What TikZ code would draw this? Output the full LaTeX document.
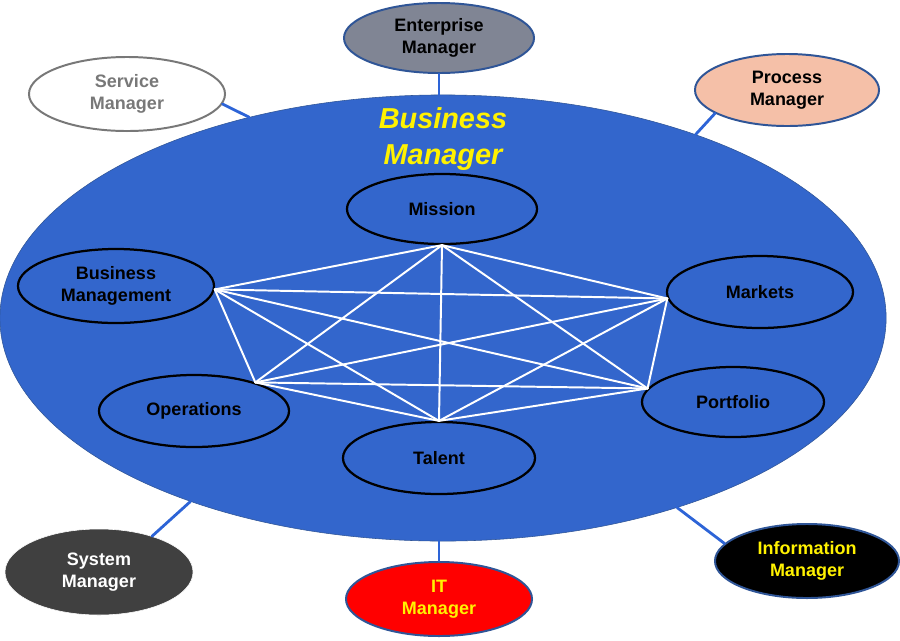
\documentclass[tikz,border=0pt]{standalone}
\usepackage{fontspec}
\setmainfont{Liberation Sans}
\usetikzlibrary{shapes.geometric}
\definecolor{bmblue}{RGB}{51,102,204}
\definecolor{rimblue}{RGB}{47,85,151}
\definecolor{linkblue}{RGB}{45,100,215}
\definecolor{entgray}{RGB}{128,133,148}
\definecolor{salmon}{RGB}{245,192,168}
\definecolor{sysgray}{RGB}{64,64,64}
\definecolor{svcgray}{RGB}{120,120,120}
\begin{document}
\begin{tikzpicture}[x=0.025cm,y=-0.025cm,line join=round,line cap=round,
		every node/.style={font=\bfseries\fontsize{12.8}{15.5}\selectfont,align=center},
		oval/.style 2 args={ellipse,inner sep=0pt,minimum width=#1cm,minimum height=#2cm},
		inner/.style={fill=bmblue,draw=black,line width=1.6pt},
		role/.style={draw=rimblue,line width=1.4pt},
		link/.style={draw=linkblue,line width=2pt},
		spoke/.style={draw=white,line width=1.4pt}]
	\fill[white] (0,0) rectangle (900,640);
	\useasboundingbox (0,0) rectangle (900,640);
	
	\node[oval={22.15}{11.15},fill=bmblue,draw=rimblue,thin] (big) at (443,318) {};
	\node[text=yellow,font=\bfseries\itshape\fontsize{20.5}{26}\selectfont] (title) at (443,139) {Business\\Manager};
	
	\node[oval={4.75}{1.75},inner] (mission) at (442,209) {Mission};
	\node[oval={4.9}{1.85},inner] (bm) at (116,286) {Business\\Management};
	\node[oval={4.65}{1.8},inner] (markets) at (760,292) {Markets};
	\node[oval={4.75}{1.8},inner] (ops) at (194,411) {Operations};
	\node[oval={4.55}{1.75},inner] (port) at (733,402) {Portfolio};
	\node[oval={4.8}{1.8},inner] (talent) at (439,458) {Talent};
	
	\coordinate (p1) at (mission.south);
	\coordinate (p2) at (markets.184);
	\coordinate (p3) at (port.171);
	\coordinate (p4) at (talent.north);
	\coordinate (p5) at (ops.25);
	\coordinate (p6) at (bm.-2);
	\foreach \i [evaluate=\i as \k using int(\i+1)] in {1,...,5}
		\foreach \j in {\k,...,6}
			\draw[spoke] (p\i) -- (p\j);
	
	\node[oval={4.75}{1.75},role,fill=entgray] (ent) at (439,38) {Enterprise\\Manager};
	\node[oval={4.9}{1.85},fill=white,draw=svcgray,line width=1.4pt,text=svcgray] (svc) at (127,94) {Service\\Manager};
	\node[oval={4.6}{1.8},role,fill=salmon] (proc) at (787,90) {Process\\Manager};
	\node[oval={4.7}{2.15},fill=sysgray,draw=white,thin,text=white] (sys) at (99,572) {System\\Manager};
	\node[oval={4.65}{1.85},role,fill=red,text=yellow] (it) at (439,599) {IT\\Manager};
	\node[oval={4.6}{1.85},role,fill=black,text=yellow] (info) at (807,561) {Information\\Manager};
	
	\draw[link] (ent) -- (ent |- big.north);
	\draw[link] (svc.-6) -- (big.134);
	\draw[link] (proc.198) -- (big.36);
	\draw[link] (sys.34) -- (big.216);
	\draw[link] (it) -- (it |- big.south);
	\draw[link] (info.168) -- (big.-39);
\end{tikzpicture}
\end{document}
